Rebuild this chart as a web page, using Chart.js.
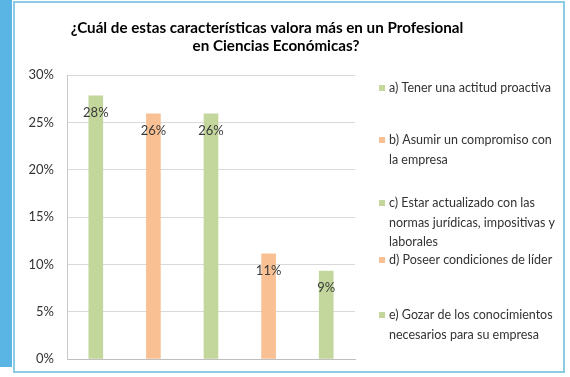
<!DOCTYPE html>
<html>
<head>
<meta charset="utf-8">
<script src="https://cdn.jsdelivr.net/npm/chart.js@4"></script>
<style>
  html, body { margin: 0; padding: 0; background: #fff; }
  #wrap { position: relative; width: 570px; height: 377px; overflow: hidden; }
  #bar { position: absolute; left: 0; top: 0; width: 12px; height: 367px; background: #5ab4e4; }
  #box { position: absolute; left: 13px; top: 1px; width: 548px; height: 368px; border: 2px solid #8ccbe6; }
  canvas { position: absolute; left: 0; top: 0; }
</style>
</head>
<body>
<div id="wrap">
  <div id="bar"></div>
  <div id="box"></div>
  <canvas id="chart-01" width="570" height="377"></canvas>
</div>
<script>
// data
const categories = [
    ['a) Tener una actitud proactiva'],
    ['b) Asumir un compromiso con', 'la empresa'],
    ['c) Estar actualizado con las', 'normas jurídicas, impositivas y', 'laborales'],
    ['d) Poseer condiciones de líder'],
    ['e) Gozar de los conocimientos', 'necesarios para su empresa']
];
const values = [27.8, 25.9, 25.9, 11.1, 9.3];
const valueLabels = ['28%', '26%', '26%', '11%', '9%'];
const yTicks = [0, 5, 10, 15, 20, 25, 30];
const titleLines = ['¿Cuál de estas características valora más en un Profesional', 'en Ciencias Económicas?'];

const green = '#c3d69b';
const orange = '#f9c193';
const barColors = [green, orange, green, orange, green];

const ctx = document.getElementById('chart-01').getContext('2d');

// title, value labels and the legend on the right
const extras = {
    id: 'extras',
    afterDatasetsDraw(chart) {
        const c = chart.ctx;
        c.save();
        // title
        c.fillStyle = '#000';
        c.font = 'bold 15.2px Lato';
        c.textAlign = 'center';
        c.textBaseline = 'middle';
        c.fillText(titleLines[0], 267, 28);
        c.fillText(titleLines[1], 276, 46);

        // value labels inside the top of each bar
        const meta = chart.getDatasetMeta(0);
        c.font = '13px Lato';
        c.fillStyle = '#3a3a3a';
        meta.data.forEach((bar, i) => {
            c.fillText(valueLabels[i], bar.x, bar.y + 17);
        });

        // legend
        const tops = [88, 140, 203, 260, 315];
        c.font = '12.5px Lato';
        c.textAlign = 'left';
        categories.forEach((lines, i) => {
            c.fillStyle = barColors[i];
            c.fillRect(379, tops[i] - 3, 6, 6);
            c.fillStyle = '#333';
            lines.forEach((t, j) => c.fillText(t, 389, tops[i] + j * 19.5));
        });
        c.restore();
    }
};

const myChart = new Chart(ctx, {
    type: 'bar',
    data: {
        labels: categories.map(l => l.join(' ')),
        datasets: [{
            data: values,
            backgroundColor: barColors,
            barThickness: 14
        }]
    },
    options: {
        responsive: false,
        animation: false,
        layout: { padding: { left: 0, top: 75, right: 215, bottom: 18 } },
        plugins: {
            legend: { display: false },
            tooltip: { enabled: false }
        },
        scales: {
            x: {
                afterFit(s) { s.height = 0; },
                grid: { display: false, drawTicks: false },
                ticks: { display: false },
                border: { color: '#bfbfbf' }
            },
            y: {
                min: 0,
                max: 30,
                afterFit(s) { s.width = 67; s.paddingTop = 0; s.paddingBottom = 0; },
                afterBuildTicks(s) { s.ticks = yTicks.map(v => ({ value: v })); },
                grid: { color: '#d9d9d9', drawTicks: false },
                border: { color: '#c8c8c8' },
                ticks: {
                    padding: 13,
                    color: '#333',
                    font: { family: 'Lato', size: 13 },
                    callback: v => v + '%'
                }
            }
        }
    },
    plugins: [extras]
});
</script>
</body>
</html>
